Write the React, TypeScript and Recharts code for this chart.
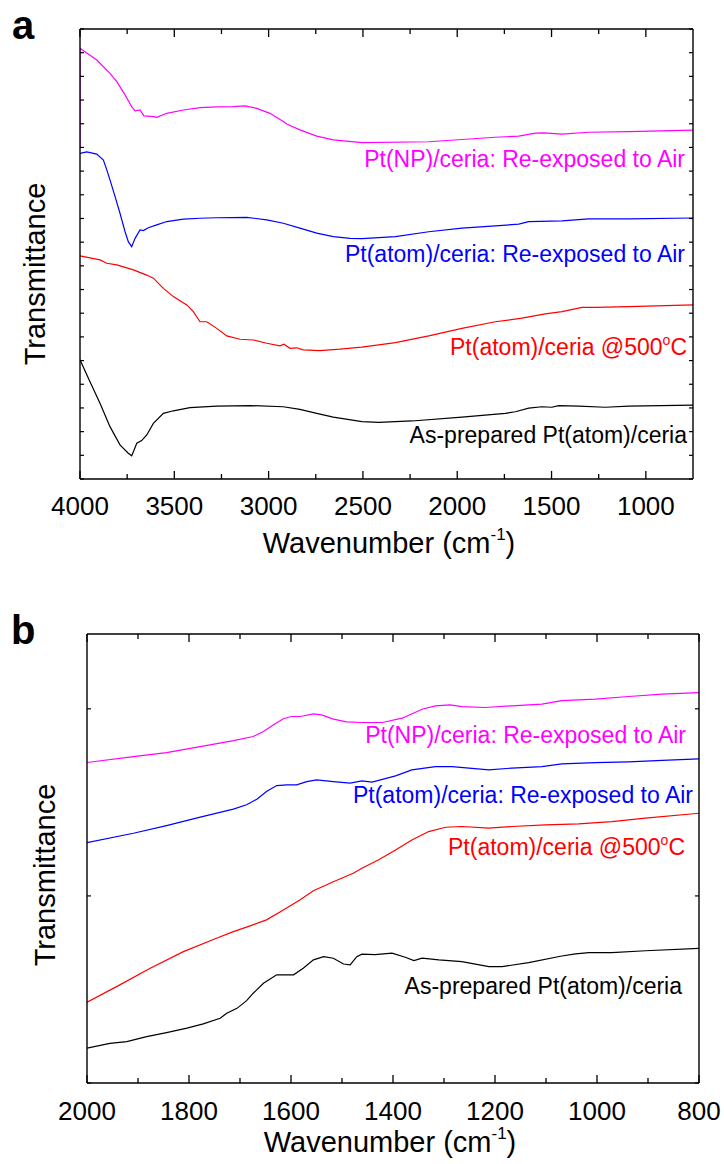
import React from "react";
import { LineChart, Line, XAxis, YAxis } from "recharts";

// panel a: [wavenumber, transmittance (a.u.)]
const A_NP: [number, number][] = [
  [4000, 14.02], [4000, 18.19], [3911, 17.69], [3841, 17.13], [3805, 16.78], [3761, 16.22],
  [3726, 15.72], [3708, 15.54], [3682, 15.58], [3661, 15.33], [3611, 15.3], [3593, 15.27],
  [3540, 15.44], [3452, 15.58], [3364, 15.68], [3275, 15.71], [3187, 15.72], [3125, 15.75],
  [3063, 15.65], [2993, 15.44], [2922, 15.09], [2904, 14.99], [2834, 14.74], [2745, 14.48],
  [2657, 14.32], [2505, 14.2], [2151, 14.24], [1798, 14.43], [1674, 14.48], [1586, 14.6],
  [1541, 14.61], [1444, 14.56], [1303, 14.64], [1091, 14.67], [750, 14.73],
];
const A_ATOM_AIR: [number, number][] = [
  [4000, 13.75], [3964, 13.81], [3911, 13.72], [3876, 13.47], [3858, 13.05], [3841, 12.63],
  [3814, 11.92], [3788, 11.22], [3761, 10.44], [3744, 10.02], [3726, 9.81], [3708, 10.16],
  [3682, 10.52], [3664, 10.49], [3638, 10.61], [3593, 10.73], [3540, 10.87], [3452, 10.97],
  [3364, 11.01], [3275, 11.03], [3116, 11.05], [3010, 10.94], [2922, 10.8], [2834, 10.59],
  [2745, 10.38], [2657, 10.23], [2568, 10.16], [2505, 10.15], [2328, 10.23], [2151, 10.44],
  [1975, 10.59], [1674, 10.76], [1621, 10.87], [1444, 10.9], [1303, 10.98], [1091, 10.98],
  [750, 11.02],
];
const A_ATOM_500: [number, number][] = [
  [4000, 9.42], [3894, 9.25], [3858, 9.11], [3805, 9.04], [3717, 8.83], [3646, 8.61],
  [3611, 8.48], [3558, 8.05], [3505, 7.7], [3434, 7.35], [3399, 7.07], [3364, 6.64],
  [3328, 6.64], [3275, 6.36], [3222, 6.04], [3152, 5.9], [3081, 5.87], [3010, 5.73],
  [2940, 5.62], [2918, 5.69], [2887, 5.52], [2851, 5.54], [2816, 5.45], [2728, 5.42],
  [2621, 5.48], [2505, 5.57], [2328, 5.76], [2151, 6.04], [1975, 6.36], [1798, 6.64],
  [1657, 6.79], [1533, 6.97], [1444, 7.07], [1338, 7.25], [1268, 7.25], [1091, 7.28],
  [750, 7.35],
];
const A_ASPREP: [number, number][] = [
  [4000, 5.03], [3947, 4.11], [3894, 3.2], [3841, 2.21], [3788, 1.44], [3744, 1.09],
  [3726, 0.98], [3717, 1.15], [3699, 1.51], [3673, 1.62], [3646, 1.86], [3611, 2.35],
  [3558, 2.77], [3505, 2.88], [3417, 3.01], [3275, 3.08], [3099, 3.1], [2922, 3.05],
  [2834, 2.94], [2745, 2.77], [2657, 2.61], [2505, 2.42], [2416, 2.39], [2240, 2.45],
  [1975, 2.61], [1745, 2.77], [1692, 2.84], [1621, 2.99], [1551, 3.05], [1498, 3.03],
  [1462, 3.1], [1356, 3.08], [1215, 3.03], [1091, 3.08], [750, 3.12],
];

// panel b: [wavenumber, transmittance (a.u.)]
const B_NP: [number, number][] = [
  [2000, 1.713], [1909, 1.745], [1844, 1.766], [1778, 1.798], [1713, 1.83], [1674, 1.852],
  [1654, 1.879], [1635, 1.914], [1615, 1.947], [1599, 1.959], [1582, 1.959], [1556, 1.973],
  [1540, 1.968], [1517, 1.945], [1491, 1.93], [1461, 1.927], [1421, 1.927], [1382, 1.95],
  [1343, 1.998], [1317, 2.016], [1288, 2.021], [1265, 2.012], [1219, 2.007], [1167, 2.016],
  [1108, 2.025], [1069, 2.044], [1003, 2.052], [938, 2.066], [872, 2.079], [800, 2.087],
];
const B_ATOM_AIR: [number, number][] = [
  [2000, 1.285], [1909, 1.335], [1844, 1.376], [1778, 1.421], [1713, 1.464], [1687, 1.487],
  [1667, 1.517], [1648, 1.558], [1628, 1.59], [1608, 1.594], [1589, 1.594], [1569, 1.611],
  [1550, 1.62], [1517, 1.611], [1484, 1.603], [1461, 1.615], [1441, 1.608], [1395, 1.642],
  [1363, 1.674], [1317, 1.691], [1284, 1.691], [1251, 1.683], [1212, 1.674], [1167, 1.683],
  [1108, 1.691], [1069, 1.706], [1003, 1.713], [938, 1.717], [872, 1.724], [800, 1.733],
];
const B_ATOM_500: [number, number][] = [
  [2000, 0.432], [1942, 0.515], [1876, 0.613], [1811, 0.702], [1746, 0.774], [1713, 0.809],
  [1680, 0.84], [1648, 0.872], [1615, 0.925], [1582, 0.979], [1556, 1.028], [1517, 1.076],
  [1478, 1.121], [1461, 1.148], [1428, 1.193], [1395, 1.246], [1363, 1.299], [1330, 1.344],
  [1297, 1.367], [1265, 1.371], [1212, 1.362], [1167, 1.371], [1101, 1.38], [1036, 1.385],
  [971, 1.397], [905, 1.416], [800, 1.442],
];
const B_ASPREP: [number, number][] = [
  [2000, 0.186], [1955, 0.212], [1922, 0.221], [1883, 0.248], [1844, 0.269], [1804, 0.293],
  [1772, 0.316], [1739, 0.346], [1726, 0.373], [1706, 0.399], [1687, 0.44], [1674, 0.48],
  [1654, 0.533], [1628, 0.578], [1595, 0.578], [1576, 0.613], [1556, 0.658], [1536, 0.675],
  [1517, 0.667], [1497, 0.636], [1484, 0.631], [1471, 0.675], [1461, 0.689], [1435, 0.686],
  [1402, 0.694], [1376, 0.672], [1359, 0.654], [1343, 0.667], [1310, 0.658], [1265, 0.649],
  [1212, 0.622], [1186, 0.622], [1134, 0.643], [1069, 0.679], [1042, 0.69], [1016, 0.697],
  [971, 0.697], [905, 0.707], [800, 0.72],
];

const A_XTICKS = [4000, 3750, 3500, 3250, 3000, 2750, 2500, 2250, 2000, 1750, 1500, 1250, 1000];
const A_YTICKS = [0, 1, 2, 3, 4, 5, 6, 7, 8, 9, 10, 11, 12, 13, 14, 15, 16, 17, 18, 19];
const B_XTICKS = [2000, 1900, 1800, 1700, 1600, 1500, 1400, 1300, 1200, 1100, 1000, 900, 800];
const B_YTICKS = [0, 1, 2];

const FONT = "'Liberation Sans', Arial, sans-serif";
const COLORS = { np: "#ff00ff", air: "#0000ff", hot: "#ff0000", prep: "#000000" };

const toRows = (pts: [number, number][]) => pts.map(([w, v]) => ({ w, v }));

function makeBottomTick(majorStep: number, labelDy: number) {
  return (p: any) => {
    const { x, y, payload } = p;
    const major = payload.value % majorStep === 0;
    return (
      <g>
        <line x1={x} x2={x} y1={y} y2={y - (major ? 8 : 5)} stroke="#000" strokeWidth={1.3} />
        {major && (
          <text x={x} y={y + labelDy} textAnchor="middle" fontSize={26} fontFamily={FONT} fill="#000">
            {payload.value}
          </text>
        )}
      </g>
    );
  };
}

function makeTopTick(majorStep: number) {
  return (p: any) => {
    const { x, y, payload } = p;
    const major = payload.value % majorStep === 0;
    return <line x1={x} x2={x} y1={y} y2={y + (major ? 8 : 5)} stroke="#000" strokeWidth={1.3} />;
  };
}

const LeftTick = (p: any) => <line x1={p.x} x2={p.x + 4} y1={p.y} y2={p.y} stroke="#000" strokeWidth={1.2} />;
const RightTick = (p: any) => <line x1={p.x} x2={p.x - 4} y1={p.y} y2={p.y} stroke="#000" strokeWidth={1.2} />;

const axisLine = { stroke: "#000", strokeWidth: 1.4 };

function Panel(props: {
  width: number;
  height: number;
  margin: { top: number; right: number; bottom: number; left: number };
  xDomain: [number, number];
  xTicks: number[];
  majorStep: number;
  labelDy: number;
  yDomain: [number, number];
  yTicks: number[];
  series: { pts: [number, number][]; color: string; name: string }[];
}) {
  const { width, height, margin, xDomain, xTicks, majorStep, labelDy, yDomain, yTicks, series } = props;
  return (
    <LineChart width={width} height={height} margin={margin}>
      <XAxis
        xAxisId="b"
        dataKey="w"
        type="number"
        domain={xDomain}
        reversed
        ticks={xTicks}
        interval={0}
        height={1}
        tickSize={0}
        tickMargin={0}
        tickLine={false}
        axisLine={axisLine}
        tick={makeBottomTick(majorStep, labelDy)}
        allowDataOverflow
      />
      <XAxis
        xAxisId="t"
        orientation="top"
        dataKey="w"
        type="number"
        domain={xDomain}
        reversed
        ticks={xTicks}
        interval={0}
        height={1}
        tickSize={0}
        tickMargin={0}
        tickLine={false}
        axisLine={axisLine}
        tick={makeTopTick(majorStep)}
        allowDataOverflow
      />
      <YAxis
        yAxisId="l"
        type="number"
        domain={yDomain}
        ticks={yTicks}
        interval={0}
        width={1}
        tickSize={0}
        tickMargin={0}
        tickLine={false}
        axisLine={axisLine}
        tick={LeftTick}
        allowDataOverflow
      />
      <YAxis
        yAxisId="r"
        orientation="right"
        type="number"
        domain={yDomain}
        ticks={yTicks}
        interval={0}
        width={1}
        tickSize={0}
        tickMargin={0}
        tickLine={false}
        axisLine={axisLine}
        tick={RightTick}
        allowDataOverflow
      />
      {series.map((s) => (
        <Line
          key={s.name}
          xAxisId="b"
          yAxisId="l"
          data={toRows(s.pts)}
          dataKey="v"
          name={s.name}
          type="linear"
          stroke={s.color}
          strokeWidth={1.2}
          dot={false}
          activeDot={false}
          isAnimationActive={false}
        />
      ))}
    </LineChart>
  );
}

function SeriesLabel({ x, y, color, children }: { x: number; y: number; color: string; children: React.ReactNode }) {
  return (
    <text x={x} y={y} textAnchor="end" fontSize={23} fontFamily={FONT} fill={color}>
      {children}
    </text>
  );
}

const Deg = () => (
  <>
    <tspan fontSize={14} dy={-10}>o</tspan>
    <tspan dy={10}>C</tspan>
  </>
);

const XTitle = ({ x, y }: { x: number; y: number }) => (
  <text x={x} y={y} textAnchor="middle" fontSize={29} fontFamily={FONT} fill="#000">
    Wavenumber (cm<tspan fontSize={17} dy={-13}>-1</tspan>
    <tspan dy={13}>)</tspan>
  </text>
);

const YTitle = ({ x, y }: { x: number; y: number }) => (
  <text x={x} y={y} textAnchor="middle" fontSize={29} fontFamily={FONT} fill="#000" transform={`rotate(-90, ${x}, ${y})`}>
    Transmittance
  </text>
);

export default function App() {
  return (
    <div style={{ position: "absolute", left: 0, top: 0, width: 724, height: 1164, background: "#fff", fontFamily: FONT }}>
      <div style={{ position: "absolute", left: 0, top: 0 }}>
        <Panel
          width={724}
          height={600}
          margin={{ top: 28, right: 30, bottom: 120, left: 79 }}
          xDomain={[750, 4000]}
          xTicks={A_XTICKS}
          majorStep={500}
          labelDy={36}
          yDomain={[0, 19]}
          yTicks={A_YTICKS}
          series={[
            { pts: A_ASPREP, color: COLORS.prep, name: "As-prepared Pt(atom)/ceria" },
            { pts: A_ATOM_500, color: COLORS.hot, name: "Pt(atom)/ceria @500C" },
            { pts: A_ATOM_AIR, color: COLORS.air, name: "Pt(atom)/ceria: Re-exposed to Air" },
            { pts: A_NP, color: COLORS.np, name: "Pt(NP)/ceria: Re-exposed to Air" },
          ]}
        />
      </div>
      <div style={{ position: "absolute", left: 0, top: 600 }}>
        <Panel
          width={724}
          height={564}
          margin={{ top: 33, right: 24, bottom: 80, left: 86 }}
          xDomain={[800, 2000]}
          xTicks={B_XTICKS}
          majorStep={200}
          labelDy={37}
          yDomain={[0, 2.4]}
          yTicks={B_YTICKS}
          series={[
            { pts: B_ASPREP, color: COLORS.prep, name: "As-prepared Pt(atom)/ceria" },
            { pts: B_ATOM_500, color: COLORS.hot, name: "Pt(atom)/ceria @500C" },
            { pts: B_ATOM_AIR, color: COLORS.air, name: "Pt(atom)/ceria: Re-exposed to Air" },
            { pts: B_NP, color: COLORS.np, name: "Pt(NP)/ceria: Re-exposed to Air" },
          ]}
        />
      </div>
      <svg
        width={724}
        height={1164}
        style={{ position: "absolute", left: 0, top: 0, pointerEvents: "none" }}
      >
        <text x={12} y={39} fontSize={40} fontWeight="bold" fontFamily={FONT}>a</text>
        <text x={11} y={644} fontSize={40} fontWeight="bold" fontFamily={FONT}>b</text>

        <YTitle x={45} y={274} />
        <YTitle x={55} y={875} />
        <XTitle x={389} y={553} />
        <XTitle x={390} y={1152} />

        <SeriesLabel x={685} y={167} color={COLORS.np}>Pt(NP)/ceria: Re-exposed to Air</SeriesLabel>
        <SeriesLabel x={685} y={262} color={COLORS.air}>Pt(atom)/ceria: Re-exposed to Air</SeriesLabel>
        <SeriesLabel x={687} y={355} color={COLORS.hot}>Pt(atom)/ceria @500<Deg /></SeriesLabel>
        <SeriesLabel x={687} y={443} color={COLORS.prep}>As-prepared Pt(atom)/ceria</SeriesLabel>

        <SeriesLabel x={686} y={743} color={COLORS.np}>Pt(NP)/ceria: Re-exposed to Air</SeriesLabel>
        <SeriesLabel x={693} y={803} color={COLORS.air}>Pt(atom)/ceria: Re-exposed to Air</SeriesLabel>
        <SeriesLabel x={685} y={855} color={COLORS.hot}>Pt(atom)/ceria @500<Deg /></SeriesLabel>
        <SeriesLabel x={682} y={994} color={COLORS.prep}>As-prepared Pt(atom)/ceria</SeriesLabel>
      </svg>
    </div>
  );
}
